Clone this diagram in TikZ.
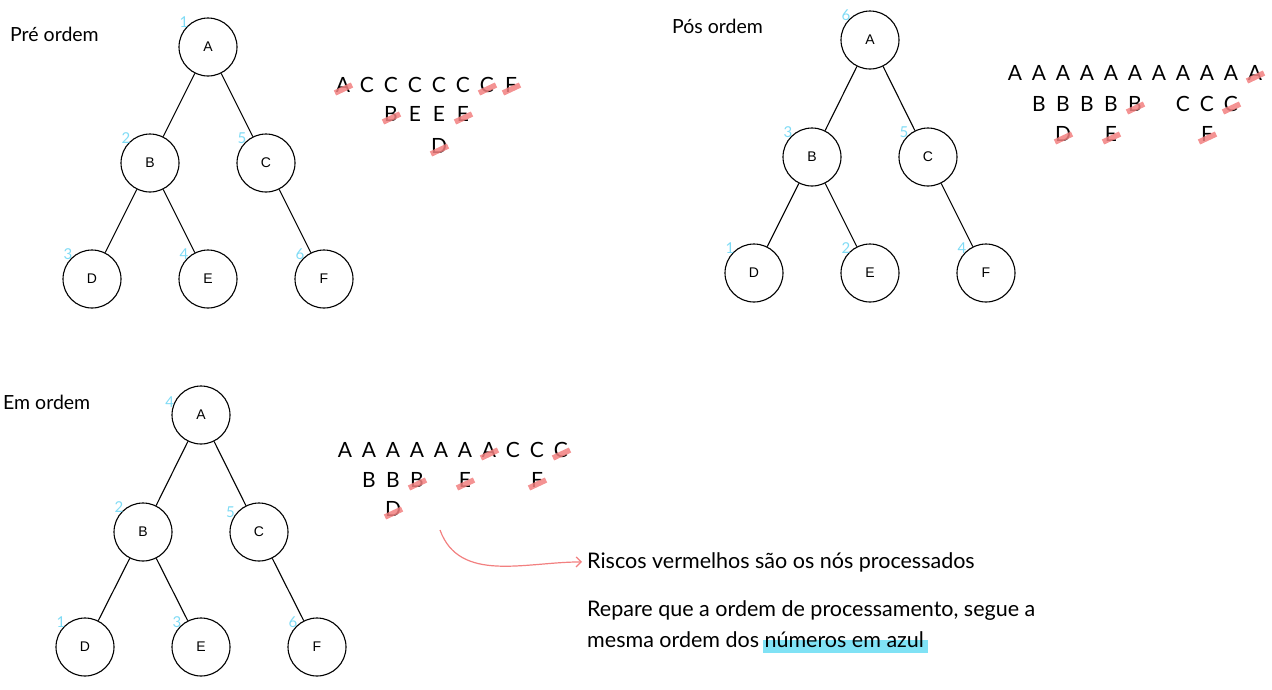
\documentclass[tikz,border=0pt]{standalone}
\usepackage{fontspec}
\setmainfont{Lato}
\newfontfamily\arial{Liberation Sans}
\usetikzlibrary{positioning,backgrounds,arrows.meta}

\definecolor{azulnum}{HTML}{7FDBF5}
\definecolor{vermelho}{HTML}{F28080}
\definecolor{destaque}{HTML}{80E2F5}

\tikzset{
  vert/.style={circle, draw, line width=1.1pt, minimum size=58pt, inner sep=0pt,
    font=\arial\fontsize{14}{14}\selectfont},
  ramo/.style={line width=1.1pt},
  num/.style={text=azulnum, font=\fontsize{15}{15}\selectfont, inner sep=0pt, label distance=-2pt},
  titulo/.style={anchor=base west, font=\fontsize{19.5}{19.5}\selectfont, inner sep=0pt},
  letra/.style={font=\fontsize{21}{21}\selectfont, inner sep=0pt},
  risco/.style={draw=vermelho, line width=5.5pt, opacity=0.85},
  nota/.style={anchor=base west, font=\fontsize{21.5}{21.5}\selectfont, inner sep=0pt},
  seta/.style={draw=vermelho, line width=1.2pt, -{Straight Barb[length=5pt,width=10pt]}},
}

\begin{document}
\begin{tikzpicture}[x=1pt, y=-1pt]
  \useasboundingbox (0,0) rectangle (1272,689);

  % pre ordem
  \node[titulo] (tpre) at (10,41) {Pré ordem};
  \node[vert, label={[num]135:1}] (preA) at (208,47) {A};
  \node[vert, label={[num]135:2}] (preB) at (150,163) {B};
  \node[vert, label={[num]135:5}] (preC) at (266,163) {C};
  \node[vert, label={[num]135:3}] (preD) at (92,279) {D};
  \node[vert, label={[num]135:4}] (preE) at (208,279) {E};
  \node[vert, label={[num]135:6}] (preF) at (324,279) {F};
  \draw[ramo] (preA) -- (preB);
  \draw[ramo] (preA) -- (preC);
  \draw[ramo] (preB) -- (preD);
  \draw[ramo] (preB) -- (preE);
  \draw[ramo] (preC) -- (preF);

  \foreach \c/\l in {1/A,2/C,3/C,4/C,5/C,6/C,7/C,8/F}
    \node[letra] (pre1-\c) at ({343+24*(\c-1)},85) {\l};
  \foreach \c/\l in {3/B,4/E,5/E,6/E}
    \node[letra] (pre2-\c) at ({343+24*(\c-1)},114) {\l};
  \node[letra] (pre3-5) at (439,146) {D};

  % pos ordem
  \node[titulo] (tpos) at (672,33) {Pós ordem};
  \node[vert, label={[num]135:6}] (posA) at (870,40) {A};
  \node[vert, label={[num]135:3}] (posB) at (812,157) {B};
  \node[vert, label={[num]135:5}] (posC) at (928,157) {C};
  \node[vert, label={[num]135:1}] (posD) at (754,273) {D};
  \node[vert, label={[num]135:2}] (posE) at (870,273) {E};
  \node[vert, label={[num]135:4}] (posF) at (986,273) {F};
  \draw[ramo] (posA) -- (posB);
  \draw[ramo] (posA) -- (posC);
  \draw[ramo] (posB) -- (posD);
  \draw[ramo] (posB) -- (posE);
  \draw[ramo] (posC) -- (posF);

  \foreach \c in {1,...,11}
    \node[letra] (pos1-\c) at ({1015+24*(\c-1)},73) {A};
  \foreach \c/\l in {2/B,3/B,4/B,5/B,6/B,8/C,9/C,10/C}
    \node[letra] (pos2-\c) at ({1015+24*(\c-1)},104) {\l};
  \foreach \c/\l in {3/D,5/E,9/F}
    \node[letra] (pos3-\c) at ({1015+24*(\c-1)},134) {\l};

  % em ordem
  \node[titulo] (tem) at (3,409) {Em ordem};
  \node[vert, label={[num]165:4}] (emA) at (201,415) {A};
  \node[vert, label={[num]135:2}] (emB) at (143,532) {B};
  \node[vert, label={[num]150:5}] (emC) at (259,532) {C};
  \node[vert, label={[num]135:1}] (emD) at (85,647) {D};
  \node[vert, label={[num]135:3}] (emE) at (201,647) {E};
  \node[vert, label={[num]135:6}] (emF) at (317,647) {F};
  \draw[ramo] (emA) -- (emB);
  \draw[ramo] (emA) -- (emC);
  \draw[ramo] (emB) -- (emD);
  \draw[ramo] (emB) -- (emE);
  \draw[ramo] (emC) -- (emF);

  \foreach \c/\l in {1/A,2/A,3/A,4/A,5/A,6/A,7/A,8/C,9/C,10/C}
    \node[letra] (em1-\c) at ({345+24*(\c-1)},450) {\l};
  \foreach \c/\l in {2/B,3/B,4/B,6/E,9/F}
    \node[letra] (em2-\c) at ({345+24*(\c-1)},480) {\l};
  \node[letra] (em3-3) at (393,509) {D};

  % riscos vermelhos
  \foreach \n in {pre1-1,pre1-7,pre1-8,pre2-3,pre2-6,pre3-5,
                  pos1-11,pos2-6,pos2-10,pos3-3,pos3-5,pos3-9,
                  em1-7,em1-10,em2-4,em2-6,em2-9,em3-3}
    \draw[risco] ([shift={(-8,8)}]\n.center) -- ([shift={(9,0)}]\n.center);

  % notas
  \coordinate (ini) at (440,530);
  \node[nota] (riscos) at (587,568) {Riscos vermelhos são os nós processados};
  \draw[seta] (ini) to[out=-70, in=180] ([xshift=-5pt]riscos.west);
  \node[nota] (repare) at (587,616) {Repare que a ordem de processamento, segue a};
  \node[nota] (mesma) at (587,647) {mesma ordem dos};
  \node[nota] (azul) at ([xshift=5pt]mesma.base east) {números em azul};
  \begin{scope}[on background layer]
    \fill[destaque] ([shift={(-1,6)}]azul.base west) rectangle ([shift={(4,-7)}]azul.base east);
  \end{scope}
\end{tikzpicture}
\end{document}
